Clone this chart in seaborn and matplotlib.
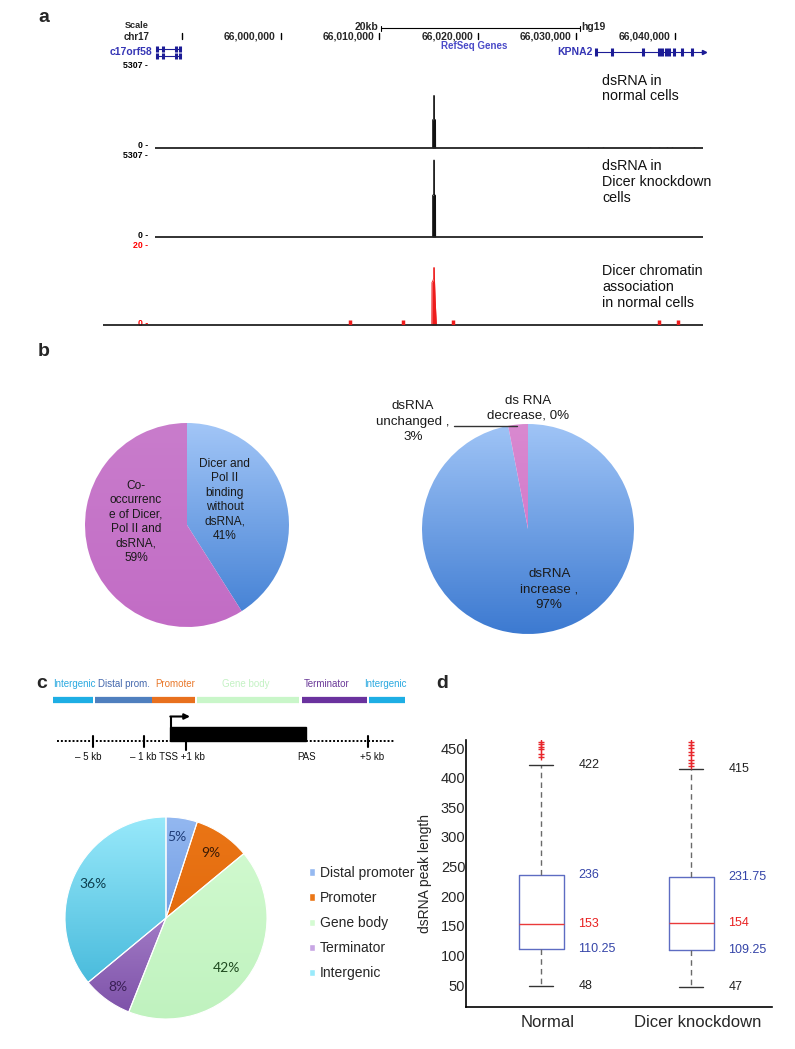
import numpy as np
import matplotlib
matplotlib.use('Agg')
import matplotlib.pyplot as plt
import seaborn as sns
from matplotlib.colors import LinearSegmentedColormap
from matplotlib.patches import Patch, Rectangle
from matplotlib.transforms import ScaledTranslation

sns.set_style('white')
plt.rcParams['font.family'] = ['Liberation Sans', 'DejaVu Sans']
NARROW = ['Liberation Sans Narrow', 'Liberation Sans', 'DejaVu Sans']

W, H = 795, 1049

# ---------------- data ----------------
# panel a: browser view chr17 (hg19)
ruler_ticks = [65990000, 66000000, 66010000, 66020000, 66030000, 66040000]
scale_bar = [66010200, 66030400]
view_lim = [65986850, 66043150]
track_start = [65987260, 65987260, 65982000]
track_end = 66042840
track_max = [5307, 5307, 20]
track_names = ['dsRNA in\nnormal cells',
               'dsRNA in\nDicer knockdown\ncells',
               'Dicer chromatin\nassociation\nin normal cells']

normal_pos = [66015400, 66015410, 66015530, 66015545, 66015575, 66015590, 66015710, 66015720]
normal_sig = [0, 1800, 1850, 3360, 3360, 1850, 1800, 0]
kd_pos = [66015400, 66015410, 66015530, 66015545, 66015575, 66015590, 66015710, 66015720]
kd_sig = [0, 2700, 2750, 4980, 4980, 2750, 2700, 0]
dicer_pos = [66015330, 66015350, 66015440, 66015520, 66015560, 66015610, 66015680, 66015760, 66015800]
dicer_sig = [0, 10.5, 10.9, 11.5, 14.2, 11.0, 6.0, 2.0, 0]

normal_minor_pos = [66031176, 66032698, 66037465, 66038377, 66039189, 66039696, 66041927]
normal_minor_sig = [70, 60, 60, 90, 80, 60, 60]
dicer_minor_pos = [66007040, 66012410, 66017490, 66038380, 66040300]
dicer_minor_sig = [1.3, 1.3, 1.3, 1.3, 1.3]

c17_exons = [65987450, 65988050, 65989350, 65989750]
kpna2_span = [66031988, 66042900]
kpna2_exons = [66032000, 66033611, 66036755, 66038377, 66038700, 66039050,
               66039391, 66039899, 66040710, 66041724]

# panel b
cooc_labels = ['Dicer and\nPol II\nbinding\nwithout\ndsRNA,\n41%',
               'Co-\noccurrenc\ne of Dicer,\nPol II and\ndsRNA,\n59%']
cooc_values = [41, 59]
change_labels = ['dsRNA\nincrease ,\n97%', 'dsRNA\nunchanged ,\n3%', 'ds RNA\ndecrease, 0%']
change_values = [97, 3, 0]

# panel c
region_header = ['Intergenic', 'Distal prom.', 'Promoter', 'Gene body', 'Terminator', 'Intergenic']
region_header_colors = ['#2aa9e0', '#4468ad', '#e9782a', '#c4f2c4', '#6b3a99', '#2aa9e0']
region_bar_colors = ['#1eaee4', '#4f7fbe', '#e8701e', '#c9f6c9', '#6a329e', '#1eaee4']
diagram_labels = ['\u2013 5 kb', '\u2013 1 kb TSS +1 kb', 'PAS', '+5 kb']
region_names = ['Distal promoter', 'Promoter', 'Gene body', 'Terminator', 'Intergenic']
region_pct = [5, 9, 42, 8, 36]

# panel d
groups = ['Normal', 'Dicer knockdown']
whisker_low = [48, 47]
q1 = [110.25, 109.25]
median = [153, 154]
q3 = [236, 231.75]
whisker_high = [422, 415]
outliers = [[435, 440, 448, 452, 456, 460],
            [420, 425, 430, 438, 443, 450, 455, 460]]
q1_text = ['110.25', '109.25']
q3_text = ['236', '231.75']

# ---------------- figure ----------------
fig = plt.figure(figsize=(W / 100, H / 100), dpi=100)


def px_axes(x0, y0, x1, y1):
    return fig.add_axes([x0 / W, 1 - y1 / H, (x1 - x0) / W, (y1 - y0) / H])


def shade(ax, wedge, top, bottom):
    cmap = LinearSegmentedColormap.from_list('g', [top, bottom])
    im = ax.imshow(np.linspace(0, 1, 256)[:, None], extent=(-1.05, 1.05, -1.05, 1.05),
                   cmap=cmap, aspect='auto', origin='upper', zorder=wedge.get_zorder())
    im.set_clip_path(wedge)
    wedge.set_facecolor('none')


canvas = px_axes(0, 0, W, H)
canvas.set_xlim(0, W)
canvas.set_ylim(H, 0)
canvas.axis('off')

for lab, (x, y) in zip('abcd', [(44, 18), (44, 351), (42, 684), (442, 683)]):
    canvas.text(x, y, lab, fontsize=14, fontweight='bold', ha='center', va='center')

# ----- panel a -----
ucsc = dict(fontsize=7.5, fontweight='bold')
small = dict(fontsize=6.3, fontweight='bold')
canvas.text(137, 25.5, 'Scale', ha='center', va='center', **dict(ucsc, fontsize=6.6))
canvas.text(137, 36.5, 'chr17', ha='center', va='center', **dict(ucsc, fontsize=7))
canvas.text(474, 46, 'RefSeq Genes', ha='center', va='center', color='#4a4ac8', **dict(ucsc, fontsize=7))
canvas.text(152, 52, 'c17orf58', ha='right', va='center', color='#3535b5', **ucsc)
canvas.text(593, 52, 'KPNA2', ha='right', va='center', color='#3535b5', **ucsc)

hdr = px_axes(151, 15, 706, 62)
hdr.set_xlim(view_lim)
hdr.set_ylim(62, 15)
hdr.axis('off')
for i, t in enumerate(ruler_ticks):
    hdr.plot([t, t], [33, 39], color='black', lw=1)
    if i > 0:
        hdr.annotate(f'{t:,}', (t, 36.5), xytext=(-3.5, 0), textcoords='offset points',
                     ha='right', va='center', **ucsc)
hdr.plot(scale_bar, [28, 28], color='black', lw=0.8)
for t in scale_bar:
    hdr.plot([t, t], [25.5, 30.5], color='black', lw=0.8)
hdr.annotate('20kb', (scale_bar[0], 27.5), xytext=(-2, 0), textcoords='offset points',
             ha='right', va='center', **ucsc)
hdr.annotate('hg19', (scale_bar[1], 27.5), xytext=(0.5, 0), textcoords='offset points',
             ha='left', va='center', **ucsc)

gene_col = '#1c1c96'
for y in [49, 56]:
    hdr.plot([c17_exons[0], c17_exons[-1]], [y, y], color=gene_col, lw=0.8)
    hdr.plot(c17_exons, [y] * len(c17_exons), ls='none', marker='|', ms=5, mew=2.2, color=gene_col)
hdr.plot(kpna2_span, [52, 52], color=gene_col, lw=0.8)
hdr.plot(kpna2_exons, [52] * len(kpna2_exons), ls='none', marker='|', ms=6, mew=2.2, color=gene_col)
hdr.plot([kpna2_span[1]], [52], marker='>', ms=3, color=gene_col)

track_px = [(65, 148), (155, 237), (244, 325)]
track_data = [(normal_pos, normal_sig), (kd_pos, kd_sig), (dicer_pos, dicer_sig)]
track_cols = ['#111111', '#111111', '#ee1c1c']
for i, ((top, bot), (pos, sig)) in enumerate(zip(track_px, track_data)):
    ax = px_axes(151, top, 706, bot)
    ax.set_xlim(view_lim)
    ax.set_ylim(0, track_max[i])
    ax.axis('off')
    ax.fill_between(pos, sig, color=track_cols[i], lw=0)
    sns.lineplot(x=pos, y=sig, ax=ax, color=track_cols[i], lw=0.6, estimator=None, sort=False)
    ax.plot([track_start[i], track_end], [0, 0], color='#222222', lw=1.3,
            clip_on=False, solid_capstyle='butt')
    if i == 0:
        ax.vlines(normal_minor_pos, 0, normal_minor_sig, color='#222222', lw=1)
    if i == 2:
        ax.vlines(dicer_minor_pos, 0, dicer_minor_sig, color=track_cols[i], lw=2.5)
    tc = 'red' if i == 2 else 'black'
    canvas.text(148, top + 1, f'{track_max[i]} -', ha='right', va='center', color=tc, **small)
    canvas.text(148, bot - 2, '0 -', ha='right', va='center', color=tc, **small)

for name, yc in zip(track_names, [88.5, 182, 287]):
    canvas.text(602, yc, name, ha='left', va='center', fontsize=10.3, linespacing=1.18,
                color='#111111')

# ----- panel b -----
axb1 = px_axes(85, 423, 289, 627)
w1, _ = axb1.pie(cooc_values, colors=['#5f9ae6', '#c674c9'], startangle=90,
                 counterclock=False, radius=1)
shade(axb1, w1[0], '#a5c8f8', '#3d7cd2')
shade(axb1, w1[1], '#c97dcc', '#c26cc5')
axb1.set_xlim(-1, 1)
axb1.set_ylim(-1, 1)
axb1.set_aspect('auto')
bl = dict(ha='center', va='center', fontsize=8.6, linespacing=1.27, family=NARROW, color='#1a1a1a')
axb1.text(0.37, 0.245, cooc_labels[0], **bl)
axb1.text(-0.5, 0.03, cooc_labels[1], **bl)

axb2 = px_axes(422, 424, 634, 634)
w2, _ = axb2.pie(change_values, colors=['#5f9ae6', '#d77ccc', '#888888'], startangle=90,
                 counterclock=False, radius=1)
shade(axb2, w2[0], '#a2c6f7', '#3a78d0')
shade(axb2, w2[1], '#d98ad0', '#cf6cc7')
axb2.set_xlim(-1, 1)
axb2.set_ylim(-1, 1)
axb2.set_aspect('auto')
br = dict(ha='center', va='center', fontsize=9.6, linespacing=1.38, family=NARROW, color='#1a1a1a')
axb2.text(0.2, -0.58, change_labels[0], **br)
axb2.text(-1.086, 1.02, change_labels[1], **br)
axb2.text(0.0, 1.15, change_labels[2], **br)
axb2.plot([-0.70, -0.10], [0.985, 0.985], color='#333333', lw=1, clip_on=False)

# ----- panel c: gene schematic -----
hdr_centers = [74, 124, 175, 246, 327, 385]
for txt, xc, col in zip(region_header, hdr_centers, region_header_colors):
    canvas.text(xc, 684, txt, ha='center', va='center', fontsize=7, color=col)

diag = px_axes(40, 675, 420, 770)
diag.set_xlim(40, 420)
diag.set_ylim(770, 675)
diag.axis('off')
bar_spans = [(53, 93), (95, 152), (152, 195), (197, 299), (302, 367), (369, 405)]
for (x0, x1), col in zip(bar_spans, region_bar_colors):
    diag.plot([x0, x1], [700, 700], color=col, lw=4.5, solid_capstyle='butt')
diag.plot([57, 395], [741, 741], color='black', lw=1.4, ls=(0, (1, 1)))
diag.add_patch(Rectangle((170, 727), 136, 14, color='black'))
diag.plot([171, 171], [727, 716.5], color='black', lw=1.5)
diag.annotate('', xy=(190, 716.5), xytext=(170.3, 716.5),
              arrowprops=dict(arrowstyle='-|>', lw=1.5, color='black', mutation_scale=8,
                              shrinkA=0, shrinkB=0))
for x in [93, 144, 368]:
    diag.plot([x, x], [735.5, 747], color='black', lw=1.5)
diag.plot([186, 186], [741, 750], color='black', lw=1.5)
for txt, xc in zip(diagram_labels, [88, 167, 307, 372]):
    diag.text(xc, 757, txt, ha='center', va='center', fontsize=7, color='#111111')

# ----- panel c: pie -----
axc = px_axes(65, 817, 267, 1019)
region_base = ['#6e9be6', '#e46c0a', '#c9f7c8', '#9a72c4', '#5bc8e8']
wc, _ = axc.pie(region_pct, colors=region_base, startangle=90, counterclock=False,
                radius=1, wedgeprops=dict(edgecolor='white', linewidth=0.8))
shades = [('#95b9f1', '#4f82d6'), ('#eb7616', '#dc6208'), ('#d4fbd2', '#bff2be'),
          ('#c8a6e4', '#7a4ea6'), ('#9aeafb', '#36b0d5')]
for w, (t, b) in zip(wc, shades):
    shade(axc, w, t, b)
    w.set_zorder(3)
axc.set_xlim(-1, 1)
axc.set_ylim(-1, 1)
axc.set_aspect('auto')
pct_xy = [(0.11, 0.80), (0.445, 0.64), (0.6, -0.5), (-0.475, -0.68), (-0.72, 0.34)]
pct_cols = ['#1e3c78', '#3a1a05', '#1f4a1f', '#3a1f55', '#0d3f50']
for v, (x, y), col in zip(region_pct, pct_xy, pct_cols):
    axc.text(x, y, f'{v}%', ha='center', va='center', fontsize=10, color=col,
             family=['Lato', 'DejaVu Sans'], zorder=5)

fig.legend(handles=[Patch(facecolor=t) for t, b in shades], labels=region_names,
           loc='upper left', bbox_to_anchor=(309 / W, 1 - 866 / H), frameon=False,
           fontsize=10, handlelength=0.45, handleheight=0.45, handletextpad=0.35,
           labelspacing=0.8, borderpad=0, borderaxespad=0)

# ----- panel d -----
axd = px_axes(466, 740, 772, 1007)
stats = []
for i in range(2):
    stats.append(dict(label=groups[i], whislo=whisker_low[i], q1=q1[i], med=median[i],
                      q3=q3[i], whishi=whisker_high[i], fliers=outliers[i]))
axd.bxp(stats, positions=[0, 1], widths=0.3, capwidths=0.16, patch_artist=False,
        boxprops=dict(color='#5d6cc2', lw=1),
        medianprops=dict(color='#ea3a3a', lw=1),
        whiskerprops=dict(color='#6a6a6a', lw=1, ls=(0, (4, 3))),
        capprops=dict(color='#333333', lw=1),
        flierprops=dict(marker='+', markersize=4, markeredgecolor='#e8262b', mew=1))
axd.set_xlim(-0.5, 1.54)
axd.set_ylim(13, 463.5)
axd.set_yticks(range(50, 451, 50))
axd.set_xticks([0, 1])
axd.set_xticklabels(groups, fontsize=12)
axd.tick_params(axis='x', length=0, pad=6)
axd.tick_params(axis='y', direction='in', length=3, pad=0.5, labelsize=10.5)
for lbl in axd.get_xticklabels():
    lbl.set_transform(lbl.get_transform() + ScaledTranslation(5 / 72, 0, fig.dpi_scale_trans))
axd.set_ylabel('dsRNA peak length', fontsize=10)
axd.yaxis.set_label_coords(-0.11, 0.5)
for s in ['top', 'right']:
    axd.spines[s].set_visible(False)
for s in ['left', 'bottom']:
    axd.spines[s].set_color('black')
    axd.spines[s].set_linewidth(1.2)
ann = dict(ha='left', va='center', fontsize=9, family=NARROW)
for i in range(2):
    x = i + 0.25
    axd.text(x, whisker_high[i], f'{whisker_high[i]}', color='#222222', **ann)
    axd.text(x, q3[i], q3_text[i], color='#3444a8', **ann)
    axd.text(x, median[i], f'{median[i]}', color='#e82020', **ann)
    axd.text(x, q1[i], q1_text[i], color='#3444a8', **ann)
    axd.text(x, whisker_low[i], f'{whisker_low[i]}', color='#222222', **ann)

fig.savefig('out.png', dpi=100)
